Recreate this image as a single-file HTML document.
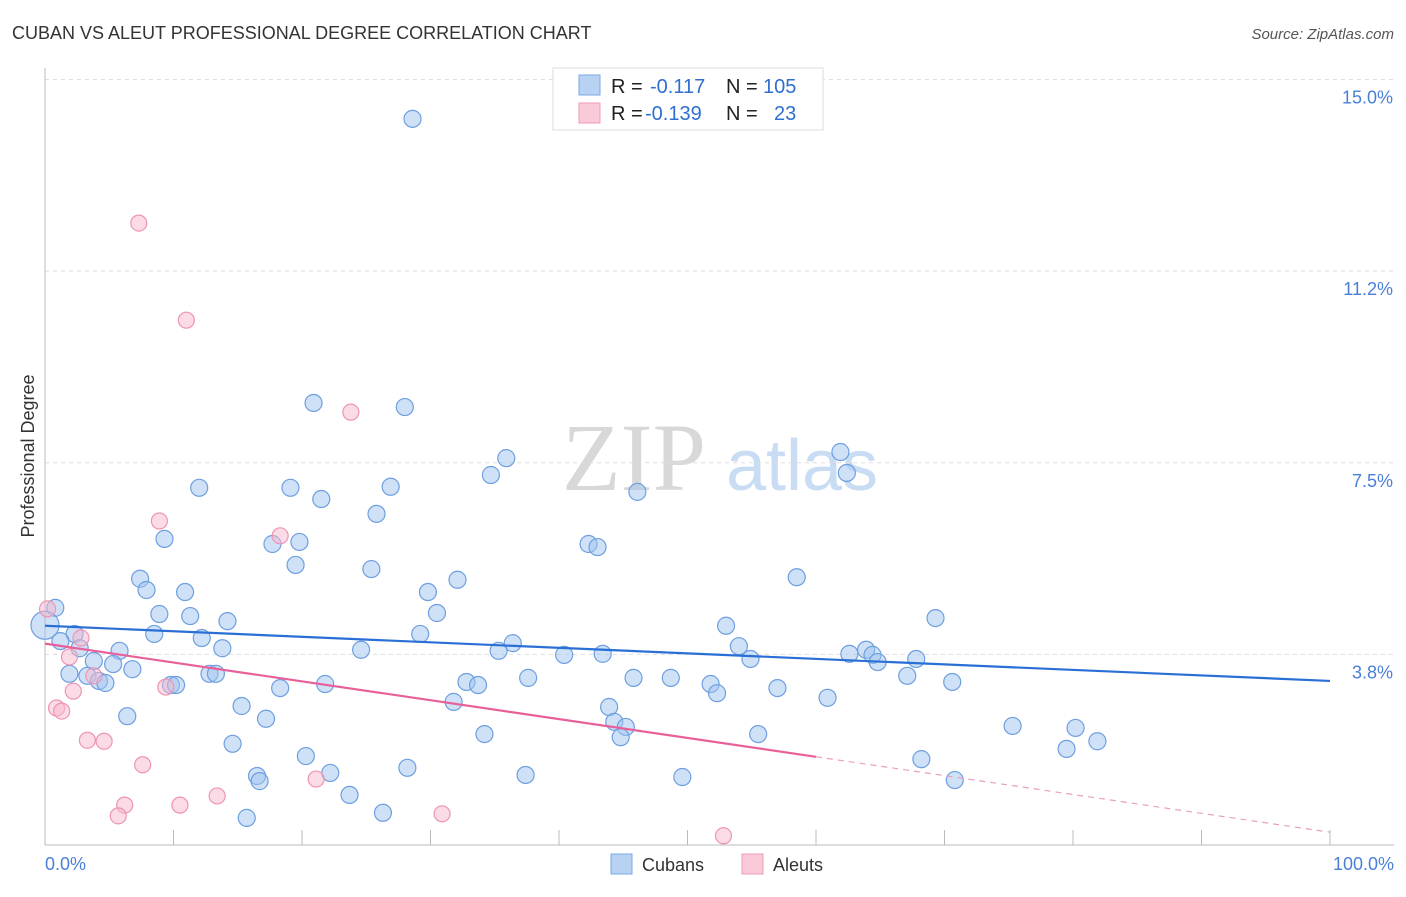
<!DOCTYPE html>
<html><head><meta charset="utf-8"><style>
body{margin:0;background:#fff;font-family:"Liberation Sans",sans-serif}
</style></head><body>
<svg id="chart" width="1406" height="892" xmlns="http://www.w3.org/2000/svg">
<text x="12" y="39" font-size="18" fill="#333">CUBAN VS ALEUT PROFESSIONAL DEGREE CORRELATION CHART</text>
<text x="1394" y="39" font-size="15" fill="#555" font-style="italic" text-anchor="end">Source: ZipAtlas.com</text>
<text x="634" y="490" font-size="96" fill="#d8d8d8" text-anchor="middle" font-family="Liberation Serif,serif">ZIP</text>
<text x="802" y="490" font-size="72" fill="#c8dcf4" text-anchor="middle">atlas</text>
<text transform="translate(34,456) rotate(-90)" font-size="18" fill="#333" text-anchor="middle">Professional Degree</text>
<g id="grid"></g><g id="pts"></g><g id="lines"></g>
<g>
<rect x="553" y="68" width="270" height="62" fill="#fff" stroke="#ddd"/>
<rect x="579" y="75" width="21" height="20" fill="#b8d2f4" stroke="#7aa8e6"/>
<rect x="579" y="103" width="21" height="20" fill="#fbcad8" stroke="#f09ab6"/>
<text y="93" font-size="20"><tspan x="611" fill="#222">R = </tspan><tspan x="650" fill="#2f6fd0">-0.117</tspan><tspan x="726" fill="#222">N = </tspan><tspan x="763" fill="#2f6fd0">105</tspan></text>
<text y="120" font-size="20"><tspan x="611" fill="#222">R = </tspan><tspan x="645" fill="#2f6fd0">-0.139</tspan><tspan x="726" fill="#222">N = </tspan><tspan x="774" fill="#2f6fd0">23</tspan></text>
</g>
<rect x="611" y="854" width="21" height="20" fill="#b8d2f4" stroke="#7aa8e6"/>
<text x="642" y="871" font-size="18" fill="#333">Cubans</text>
<rect x="742" y="854" width="21" height="20" fill="#fbcad8" stroke="#f09ab6"/>
<text x="773" y="871" font-size="18" fill="#333">Aleuts</text>
</svg>
<script>
const yTicks=[15.0,11.25,7.5,3.75];
const yTickLabels=["15.0%","11.2%","7.5%","3.8%"];
const xTickVals=[0,10,20,30,40,50,60,70,80,90,100];
const cubanX=[28.6,20.9,28.0,61.9,35.9,34.7,62.4,12.0,19.1,26.9,21.5,46.1,25.8,9.3,17.7,19.8,42.3,43.0,19.5,25.4,58.5,7.4,32.1,7.9,10.9,29.8,0.8,8.9,11.3,30.5,69.3,14.2,53.0,8.5,12.2,29.2,2.3,1.2,2.7,36.4,13.8,54.0,24.6,35.3,5.8,63.9,62.6,64.4,40.4,43.4,67.8,54.9,64.8,3.8,5.3,6.8,1.9,12.8,13.3,3.3,4.2,4.7,45.8,48.7,37.6,32.8,33.7,51.8,9.8,10.2,67.1,70.6,18.3,21.8,57.0,52.3,60.9,31.8,15.3,43.9,6.4,17.2,44.3,45.2,75.3,80.2,34.2,55.5,44.8,81.9,14.6,79.5,20.3,68.2,28.2,16.5,22.2,16.7,37.4,49.6,70.8,23.7,26.3,15.7];
const cubanY=[14.23,8.67,8.59,7.71,7.59,7.26,7.30,7.01,7.01,7.03,6.79,6.93,6.50,6.01,5.91,5.95,5.91,5.85,5.50,5.42,5.26,5.23,5.21,5.01,4.97,4.97,4.66,4.54,4.50,4.56,4.46,4.40,4.31,4.15,4.07,4.15,4.15,4.01,3.87,3.97,3.87,3.91,3.84,3.82,3.82,3.84,3.76,3.74,3.74,3.76,3.66,3.66,3.60,3.62,3.56,3.46,3.37,3.37,3.37,3.33,3.23,3.19,3.29,3.29,3.29,3.21,3.15,3.17,3.15,3.15,3.33,3.21,3.09,3.17,3.09,2.99,2.90,2.82,2.74,2.72,2.54,2.49,2.43,2.33,2.35,2.31,2.19,2.19,2.13,2.05,2.00,1.90,1.76,1.70,1.53,1.37,1.43,1.27,1.39,1.35,1.29,1.00,0.65,0.55];
const aleutX=[7.3,11.0,23.8,8.9,18.3,0.2,2.8,1.9,3.8,9.4,2.2,0.9,1.3,3.3,4.6,7.6,21.1,6.2,10.5,13.4,5.7,30.9,52.8];
const aleutY=[12.19,10.29,8.49,6.36,6.07,4.64,4.07,3.70,3.33,3.11,3.03,2.70,2.64,2.07,2.05,1.59,1.31,0.80,0.80,0.98,0.59,0.63,0.20];
const cubanTrend=[4.31,3.23];
const aleutTrend=[3.96,0.27];
const aleutSolidEnd=60;
const NS="http://www.w3.org/2000/svg";
const X=v=>45+v*12.85, Y=v=>846-v*51.1;
function mk(tag,attrs,parent){const e=document.createElementNS(NS,tag);for(const k in attrs)e.setAttribute(k,attrs[k]);document.getElementById(parent).appendChild(e);return e;}
yTicks.forEach((t,i)=>{
 const l=mk('line',{x1:45,x2:1394,y1:Y(t),y2:Y(t),stroke:'#ddd','stroke-dasharray':'4,4'},'grid');
 
 
 const tx=mk('text',{x:1393,y:Y(t)+24,'font-size':18,fill:'#4a7fd8','text-anchor':'end'},'grid');
 tx.textContent=yTickLabels[i];
 
 
});
const ax=mk('line',{x1:45,x2:1394,y1:845,y2:845,stroke:'#bbb'},'grid');


const ay=mk('line',{x1:45,x2:45,y1:68,y2:845,stroke:'#bbb'},'grid');


xTickVals.forEach(v=>{
 const t=mk('line',{x1:X(v),x2:X(v),y1:830,y2:845,stroke:'#bbb'},'grid');
 
 
});
[[0,"0.0%",'start',45],[100,"100.0%",'end',1394]].forEach(a=>{
 const t=mk('text',{x:a[3],y:870,'font-size':18,fill:'#4a7fd8','text-anchor':a[2]},'grid');
 t.textContent=a[1];
 
 
});
cubanX.forEach((x,i)=>{
 const c=mk('circle',{cx:X(x),cy:Y(cubanY[i]),r:8.5,fill:'rgba(160,196,240,0.5)',stroke:'#6e9fe0','stroke-width':1.2},'pts');
 
 
});
const big=mk('circle',{cx:X(0),cy:Y(4.32),r:14,fill:'rgba(160,196,240,0.5)',stroke:'#6e9fe0','stroke-width':1.2},'pts');


aleutX.forEach((x,i)=>{
 const c=mk('circle',{cx:X(x),cy:Y(aleutY[i]),r:8,fill:'rgba(248,184,204,0.5)',stroke:'#ee94b4','stroke-width':1.2},'pts');
 
 
});
const bl=mk('line',{x1:X(0),y1:Y(cubanTrend[0]),x2:X(100),y2:Y(cubanTrend[1]),stroke:'#2a6fd6','stroke-width':2.2},'lines');


const ya=x=>aleutTrend[0]+(aleutTrend[1]-aleutTrend[0])*x/100;
const pl=mk('line',{x1:X(0),y1:Y(ya(0)),x2:X(aleutSolidEnd),y2:Y(ya(aleutSolidEnd)),stroke:'#e8609a','stroke-width':2.2},'lines');


const pd=mk('line',{x1:X(aleutSolidEnd),y1:Y(ya(aleutSolidEnd)),x2:X(100),y2:Y(ya(100)),stroke:'#e8a0bc','stroke-width':1.2,'stroke-dasharray':'6,5'},'lines');


</script>
</body></html>
